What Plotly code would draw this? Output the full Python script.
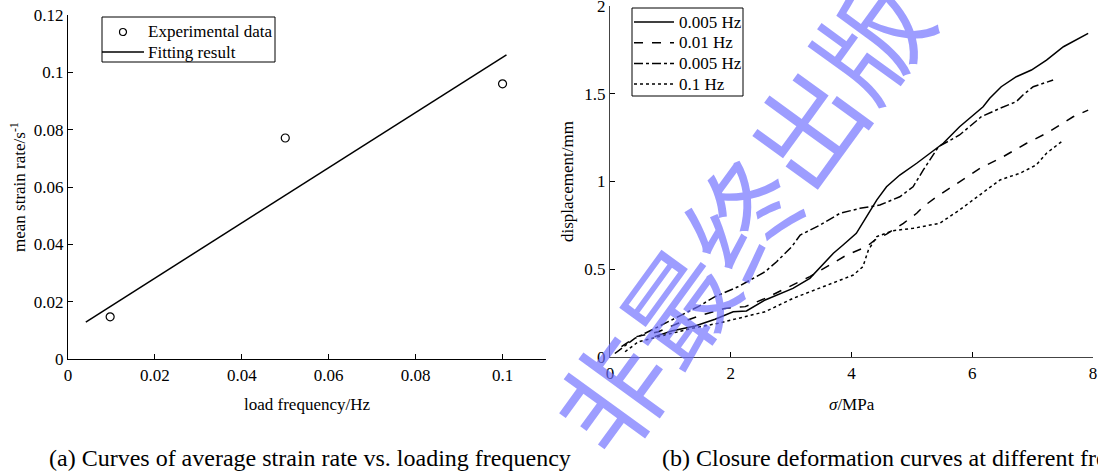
import plotly.graph_objects as go

# ---------------- data: (a) strain rate vs frequency ----------------
freq_exp = [0.0097, 0.05, 0.1]
rate_exp = [0.0147, 0.0771, 0.096]
freq_fit = [0.0041, 0.1009]
rate_fit = [0.0129, 0.1061]
names_a = ["Experimental data", "Fitting result"]

# ---------------- data: (b) closure deformation curves ----------------
sig_s = [0.74, 1.02, 1.41, 1.74, 2.04, 2.26, 2.57, 3.03, 3.31, 3.50, 3.70, 3.86, 4.08, 4.25,
         4.42, 4.58, 4.80, 5.08, 5.30, 5.52, 5.79, 6.18, 6.29, 6.48, 6.73, 6.98, 7.23, 7.51, 7.92]
disp_s = [0.116, 0.148, 0.177, 0.215, 0.258, 0.262, 0.325, 0.391, 0.448, 0.515, 0.591, 0.638, 0.705, 0.80,
          0.895, 0.97, 1.037, 1.104, 1.16, 1.218, 1.312, 1.426, 1.474, 1.54, 1.597, 1.635, 1.692, 1.768, 1.844]

sig_d = [0.19, 0.44, 0.80, 1.13, 1.52, 1.90, 2.24, 2.57, 3.31, 3.59, 3.92, 4.25, 4.39, 4.58, 4.86,
         5.08, 5.19, 5.41, 5.79, 6.13, 6.51, 6.90, 7.23, 7.45, 7.67, 7.92]
disp_d = [0.059, 0.116, 0.144, 0.192, 0.239, 0.277, 0.287, 0.334, 0.458, 0.515, 0.581, 0.629, 0.667, 0.70, 0.762,
          0.819, 0.857, 0.913, 0.999, 1.075, 1.141, 1.218, 1.275, 1.322, 1.369, 1.407]

sig_dd = [0.08, 0.41, 0.745, 1.13, 1.46, 1.74, 2.12, 2.57, 2.76, 3.01, 3.15, 3.48, 3.81, 4.14, 4.47,
          4.80, 5.02, 5.19, 5.44, 5.79, 6.15, 6.46, 6.73, 6.84, 7.01, 7.34]
disp_dd = [0.02, 0.106, 0.163, 0.23, 0.287, 0.344, 0.40, 0.486, 0.543, 0.628, 0.695, 0.752, 0.819, 0.847, 0.866,
           0.913, 0.97, 1.066, 1.198, 1.265, 1.369, 1.417, 1.455, 1.493, 1.54, 1.578]

sig_dot = [0.25, 0.47, 0.91, 1.35, 1.79, 2.24, 2.57, 3.03, 3.59, 4.03, 4.19, 4.28, 4.42, 4.69, 5.02,
           5.30, 5.46, 5.79, 6.13, 6.46, 6.79, 7.06, 7.23, 7.48]
disp_dot = [0.03, 0.087, 0.125, 0.163, 0.192, 0.23, 0.258, 0.334, 0.41, 0.467, 0.515, 0.61, 0.686, 0.72, 0.733,
            0.752, 0.762, 0.838, 0.923, 1.009, 1.047, 1.094, 1.161, 1.227]

names_b = ["0.005 Hz", "0.01 Hz", "0.005 Hz", "0.1 Hz"]
dashes_b = ["solid", "dash", "dashdot", "dot"]

# tick labels
xa_vals = [0, 0.02, 0.04, 0.06, 0.08, 0.1]
xa_text = ["0", "0.02", "0.04", "0.06", "0.08", "0.1"]
ya_vals = [0, 0.02, 0.04, 0.06, 0.08, 0.1, 0.12]
ya_text = ["0", "0.02", "0.04", "0.06", "0.08", "0.1", "0.12"]
xb_vals = [0, 2, 4, 6, 8]
xb_text = ["0", "2", "4", "6", "8"]
yb_vals = [0, 0.5, 1, 1.5, 2]
yb_text = ["0", "0.5", "1", "1.5", "2"]

FONT = "Liberation Serif, Times New Roman, serif"
W, H = 1098, 476


def px_x(p):
    return p / W


def px_y(p):
    return 1 - p / H


fig = go.Figure()

fig.add_trace(go.Scatter(x=freq_exp, y=rate_exp, mode="markers", name=names_a[0],
                         marker=dict(symbol="circle-open", size=8, color="black", line=dict(width=1.2)),
                         xaxis="x", yaxis="y"))
fig.add_trace(go.Scatter(x=freq_fit, y=rate_fit, mode="lines", name=names_a[1],
                         line=dict(color="black", width=1.5),
                         xaxis="x", yaxis="y"))

series_b = [(sig_s, disp_s), (sig_d, disp_d), (sig_dd, disp_dd), (sig_dot, disp_dot)]
for (xs, ys), nm, dash in zip(series_b, names_b, dashes_b):
    fig.add_trace(go.Scatter(x=xs, y=ys, mode="lines", name=nm,
                             line=dict(color="black", width=1.5, dash=dash),
                             xaxis="x2", yaxis="y2"))

axis_common = dict(showgrid=False, zeroline=False, showline=True, ticks="inside", ticklen=5,
                   tickwidth=1, tickcolor="black", tickfont=dict(family=FONT, size=17, color="black"),
                   linewidth=1.2, automargin=False, ticklabeloverflow="allow")

fig.update_layout(
    width=W, height=H,
    margin=dict(l=0, r=0, t=0, b=0),
    paper_bgcolor="white", plot_bgcolor="white",
    font=dict(family=FONT, size=17, color="black"),
    showlegend=False,
    xaxis=dict(domain=[px_x(68), px_x(546)], range=[0, 0.11], tickvals=xa_vals, ticktext=xa_text,
               anchor="y", linecolor="black", **axis_common),
    yaxis=dict(domain=[px_y(359), px_y(15)], range=[0, 0.12], tickvals=ya_vals, ticktext=ya_text,
               anchor="x", linecolor="black", **axis_common),
    xaxis2=dict(domain=[px_x(610), px_x(1093)], range=[0, 8], tickvals=xb_vals, ticktext=xb_text,
                anchor="y2", linecolor="#444", **axis_common),
    yaxis2=dict(domain=[px_y(357), px_y(6)], range=[0, 2], tickvals=yb_vals, ticktext=yb_text,
                anchor="x2", linecolor="#444", **axis_common),
)

# ---------- hand-drawn legends (boxes, samples, labels) ----------
# legend (a)
fig.add_shape(type="rect", xref="paper", yref="paper", x0=px_x(102), x1=px_x(275), y0=px_y(62), y1=px_y(17),
              line=dict(color="black", width=1), fillcolor="white", layer="above")
fig.add_shape(type="circle", xref="paper", yref="paper", x0=px_x(119.5), x1=px_x(126.5),
              y0=px_y(35.5), y1=px_y(28.5), line=dict(color="black", width=1.2), layer="above")
fig.add_shape(type="line", xref="paper", yref="paper", x0=px_x(102), x1=px_x(144), y0=px_y(52), y1=px_y(52),
              line=dict(color="black", width=1.5), layer="above")
for i, nm in enumerate(names_a):
    fig.add_annotation(text=nm, xref="paper", yref="paper", x=px_x(146), y=px_y(32 + 20 * i),
                       xanchor="left", yanchor="middle", showarrow=False,
                       font=dict(family=FONT, size=17, color="black"))

# legend (b)
fig.add_shape(type="rect", xref="paper", yref="paper", x0=px_x(632), x1=px_x(743), y0=px_y(96), y1=px_y(8),
              line=dict(color="black", width=1), fillcolor="white", layer="above")
for i, (nm, dash) in enumerate(zip(names_b, dashes_b)):
    yy = 22 + 20.7 * i
    fig.add_shape(type="line", xref="paper", yref="paper", x0=px_x(634), x1=px_x(674),
                  y0=px_y(yy), y1=px_y(yy), line=dict(color="black", width=1.5, dash=dash), layer="above")
    fig.add_annotation(text=nm, xref="paper", yref="paper", x=px_x(677), y=px_y(yy),
                       xanchor="left", yanchor="middle", showarrow=False,
                       font=dict(family=FONT, size=17, color="black"))

# ---------- axis titles ----------
annots = [
    dict(text="mean strain rate/s<sup>-1</sup>", x=px_x(18), y=px_y(187), textangle=-90),
    dict(text="displacement/mm", x=px_x(567), y=px_y(182), textangle=-90),
    dict(text="load frequency/Hz", x=px_x(307), y=px_y(404)),
    dict(text="<i>σ</i>/MPa", x=px_x(852), y=px_y(404)),
]
for a in annots:
    fig.add_annotation(xref="paper", yref="paper", showarrow=False,
                       xanchor="center", yanchor="middle",
                       font=dict(family=FONT, size=17, color="black"), **a)

# ---------- captions ----------
fig.add_annotation(text="(a) Curves of average strain rate vs. loading frequency",
                   xref="paper", yref="paper", x=px_x(47), y=px_y(458), xanchor="left", yanchor="middle",
                   showarrow=False, font=dict(family=FONT, size=24, color="black"))
fig.add_annotation(text="(b) Closure deformation curves at different frequencies",
                   xref="paper", yref="paper", x=px_x(660), y=px_y(458), xanchor="left", yanchor="middle",
                   showarrow=False, font=dict(family=FONT, size=24, color="black"))

# ---------- watermark ----------
fig.add_annotation(text="非最终出版", xref="paper", yref="paper", x=px_x(738), y=px_y(214),
                   xanchor="center", yanchor="middle", showarrow=False, textangle=-54,
                   font=dict(family="Noto Sans CJK SC", size=110, color="rgba(110,110,255,0.68)"))

fig.write_html("out.html", config={"displayModeBar": False},
               post_script="document.body.style.margin='0px';document.body.style.overflow='hidden';")
